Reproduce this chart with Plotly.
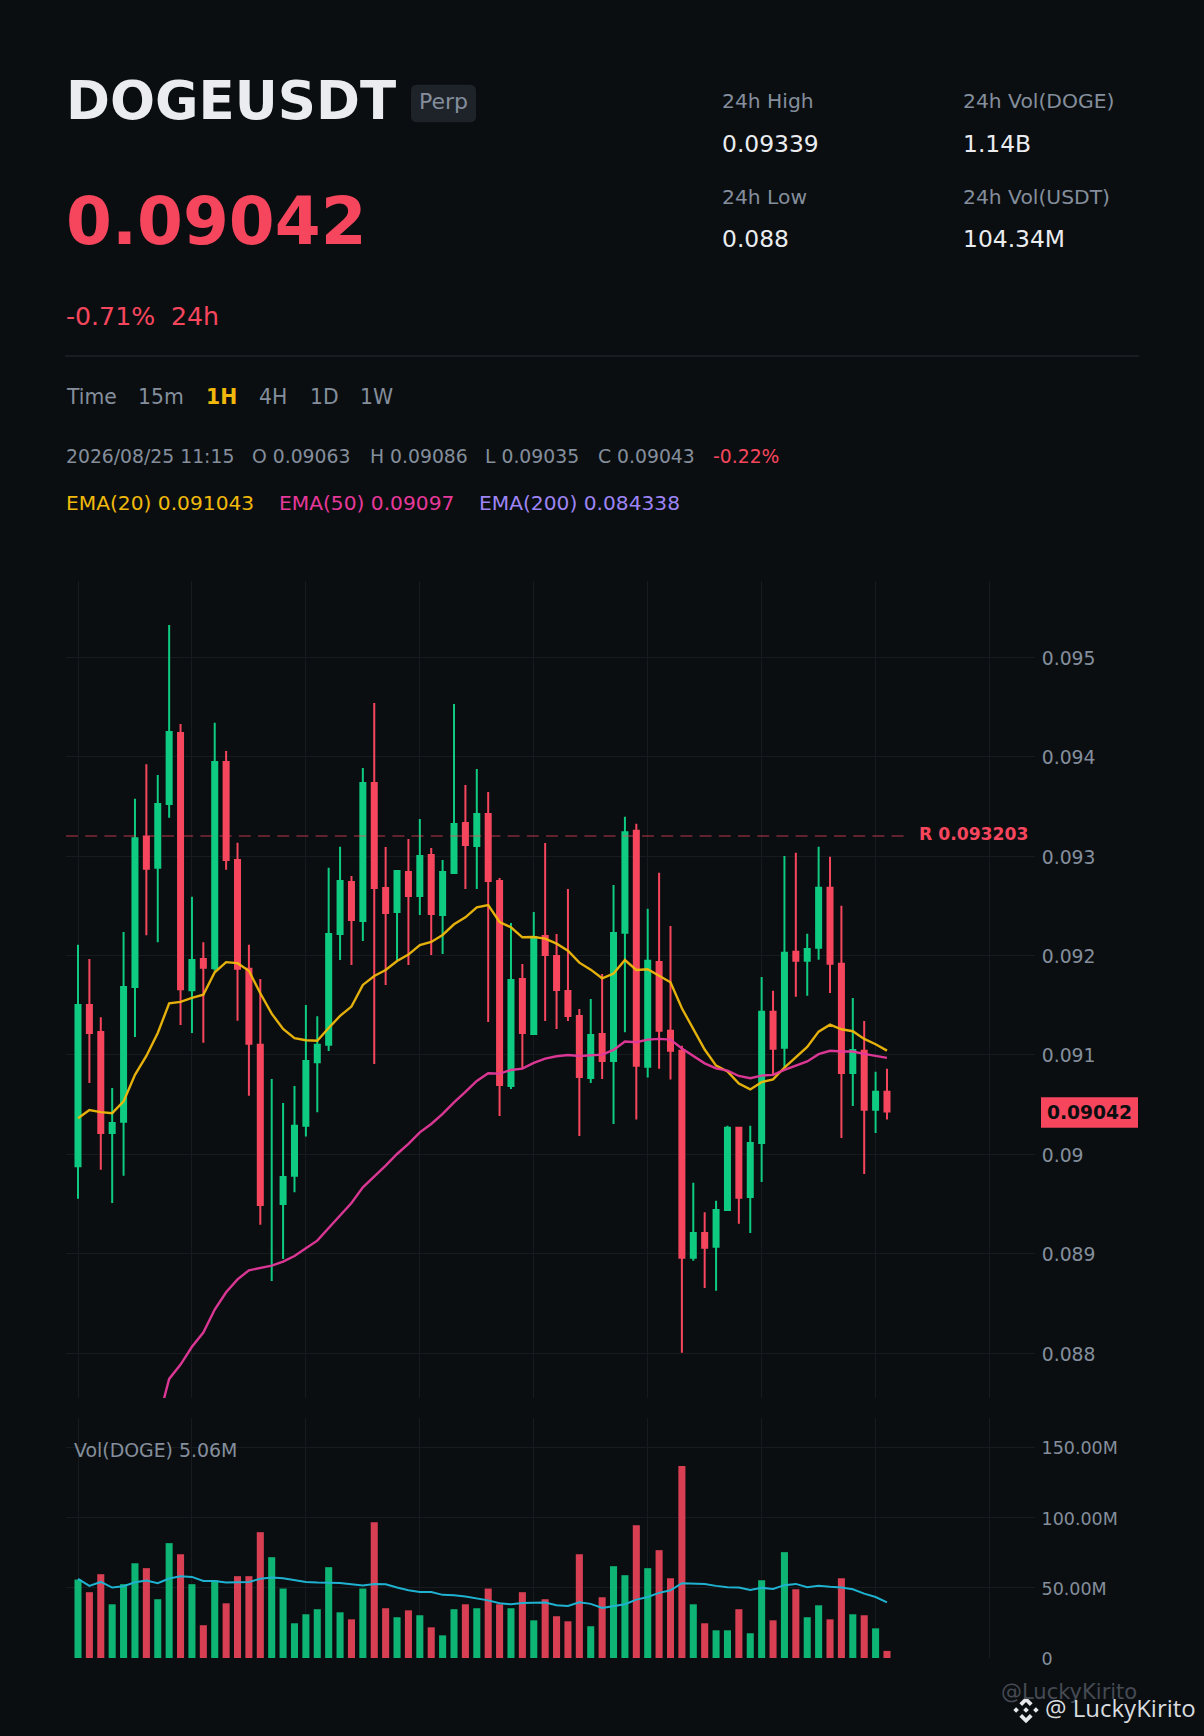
import plotly.graph_objects as go

# Candles, oldest first (candle 17 shows only a wick)
opens = [.08988, .091502, .09123, .090214, .090327, .091682, .093196, .092883, .093525, .094238,
         .091651, .091964, .091872, .093946, .09296, .091867, .091102, None, .0895, .089783,
         .090286, .090927, .091102, .092216, .09274, .092347, .093736, .092679, .092438, .09284,
         .092599, .093011, .092408, .09283, .093333, .093102, .093424, .09275, .090687, .091764,
         .091211, .092197, .091995, .091643, .091392, .090768, .091211, .090939, .092228, .093256,
         .09088, .091935, .091242, .091042, .088959, .089209, .08907, .08944, .090268, .089571,
         .090114, .091435, .091073, .092039, .091947, .092078, .092682, .091916, .090819, .091042,
         .090449, .09063]
highs = [.092108, .091964, .091379, .090666, .092236, .093576, .093925, .093817, .095326, .09433,
         .09259, .092134, .094341, .094058, .093135, .092108, .091764, .090758, .090517, .090686,
         .091502, .091389, .092883, .093093, .0928, .093887, .094541, .093092, .09285, .093172,
         .093374, .093082, .092961, .094531, .093716, .093877, .093645, .09278, .092327, .091915,
         .092438, .093132, .092217, .092669, .091462, .091563, .091814, .09271, .093395, .093325,
         .092471, .092832, .092297, .091092, .089714, .089417, .089533, .090287, .090276, .090287,
         .091785, .091646, .093002, .093033, .09222, .093094, .092994, .092501, .091573, .091342,
         .09083, .09086]
lows = [.089552, .090717, .089844, .089511, .089783, .091179, .092205, .092134, .093386, .091302,
        .09122, .091122, .091846, .092862, .091343, .090589, .08929, .088725, .088946, .089618,
        .090178, .090424, .09104, .091954, .091905, .092146, .090909, .091704, .091955, .091905,
        .092408, .092005, .092015, .09282, .092669, .092669, .091331, .090386, .090657, .090865,
        .091211, .091341, .091261, .091341, .090184, .090718, .090758, .090305, .091227, .090349,
        .090772, .090861, .090753, .088004, .088928, .088655, .088628, .08944, .089302, .089209,
        .089721, .090803, .09088, .091585, .091596, .091958, .091623, .090164, .090487, .089802,
        .090214, .09035]
closes = [.091502, .09122, .090214, .090316, .091682, .093181, .092873, .093525, .094248, .091661,
          .091954, .091877, .093946, .09296, .091867, .091112, .08949, None, .089772, .090286,
          .090938, .091102, .092216, .09275, .092357, .093736, .092679, .092428, .09285, .092599,
          .093001, .092418, .09284, .093323, .093112, .093424, .09275, .090698, .091754, .091221,
          .092186, .092005, .091653, .091392, .090778, .091201, .090939, .092227, .093241, .090892,
          .091947, .091242, .091042, .088959, .089209, .089059, .08944, .090268, .089563, .090114,
          .091435, .091061, .092028, .091947, .092066, .092682, .091916, .090819, .09105, .090449,
          .09063, .09043]

ema20 = [.090363, .090445, .090424, .090414, .090532, .090799, .090989, .09122, .091518, .091533,
         .091574, .091605, .091831, .091933, .091923, .091846, .09162, .091415, .091261, .091169,
         .091148, .091143, .091271, .091392, .091486, .091704, .091794, .091854, .091945, .092009,
         .092106, .092136, .092207, .092314, .092384, .092485, .092508, .092337, .092284, .092183,
         .092186, .09217, .092119, .092049, .091928, .091858, .091771, .091818, .091955, .091854,
         .091862, .091797, .091731, .091469, .091265, .091054, .090892, .090834, .090711, .090653,
         .090726, .090753, .090873, .090977, .09108, .091234, .091304, .091258, .091238, .091161,
         .091107, .091043]
ema50 = [None, None, None, None, None, None, None, .0873, .08774, .087884,
         .088063, .088207, .088438, .088612, .088741, .088833, .088854, .088879, .08892, .088977,
         .089054, .089131, .089259, .089387, .08951, .089668, .089775, .089886, .090003, .090104,
         .090221, .090305, .090406, .090523, .090627, .090738, .090815, .090812, .090848, .090862,
         .090919, .090962, .090986, .090999, .090989, .090996, .091003, .09105, .091134, .091127,
         .091154, .091161, .091154, .091065, .090988, .090915, .090865, .090842, .090788, .090765,
         .090792, .090799, .090849, .090888, .090934, .091007, .091042, .091034, .091034, .091011,
         .090992, .09097]

# Volume in millions of DOGE
volumes = [55.8, 46.8, 59.6, 38.2, 52.5, 67.4, 63.9, 41.8, 81.7, 73.8,
           52.5, 23.3, 55.3, 38.9, 58.2, 58.2, 89.5, 71.7, 49.4, 24.7,
           31.1, 34.7, 64.6, 32.5, 27.5, 49.4, 96.6, 35.4, 29.0, 33.9,
           30.4, 21.8, 16.1, 34.7, 38.2, 35.4, 49.4, 38.2, 35.4, 46.8,
           26.8, 41.8, 29.7, 26.1, 73.8, 22.6, 43.2, 65.3, 58.9, 94.5,
           63.9, 76.7, 56.7, 136.5, 38.2, 24.7, 19.7, 19.7, 34.7, 17.6,
           55.3, 26.8, 75.3, 48.9, 29.0, 37.5, 27.5, 56.7, 31.1, 30.4,
           21.1, 5.06]
vol_ma = [56.3, 51.3, 54.1, 50.1, 51.0, 53.9, 55.1, 53.2, 56.5, 58.2,
          57.7, 54.8, 54.8, 53.7, 53.9, 54.1, 56.3, 57.2, 56.7, 55.3,
          54.1, 53.7, 53.7, 53.4, 52.5, 51.5, 52.7, 52.5, 50.1, 48.2,
          47.0, 47.0, 44.9, 44.6, 43.7, 42.5, 41.0, 38.9, 38.2, 39.2,
          39.2, 39.4, 37.5, 37.0, 39.6, 38.5, 35.6, 36.8, 38.2, 41.5,
          43.4, 46.3, 48.2, 53.2, 53.2, 52.7, 51.3, 50.3, 50.1, 48.4,
          49.9, 49.1, 51.8, 52.7, 50.3, 51.3, 50.6, 50.1, 48.9, 45.8,
          43.4, 39.6]

candle_x = list(range(72))
grid_x = [0, 10, 20, 30, 40, 50, 60, 70, 80]
price_ticks = [.088, .089, .09, .091, .092, .093, .094, .095]
price_tick_text = ["0.088", "0.089", "0.09", "0.091", "0.092", "0.093", "0.094", "0.095"]
vol_ticks = [0, 50, 100, 150]
vol_tick_text = ["0", "50.00M", "100.00M", "150.00M"]

resistance = 0.093203
last_price = 0.09042

WIDTH = 1204
HEIGHT = 1736
BG = "#0B0E11"
GRID = "#171B20"
GREEN = "#0ECB81"
RED = "#F6465D"
GREY = "#848E9C"
YELLOW = "#F0B90B"
PINK = "#E6399B"
PURPLE = "#9D85F5"
BLUE = "#1FB2D0"
FONT = "DejaVu Sans"


def px(x):
    return x / WIDTH


def py(y):
    return 1 - y / HEIGHT


annotations = []


# text placed by its left edge and baseline, in page pixels
def label(x, base, text, size, color, bold=False, family=FONT, anchor="left"):
    annotations.append(dict(
        xref="paper", yref="paper", x=px(x), y=py(base + 0.236 * size),
        xanchor=anchor, yanchor="bottom", showarrow=False, borderpad=0,
        text="<b>%s</b>" % text if bold else text,
        font=dict(family=family, size=size, color=color),
    ))


label(65, 119, "DOGEUSDT", 53, "#EAECEF", bold=True)
label(418, 110.3, "Perp", 22, GREY)
label(64.5, 245, "0.09042", 66, RED, bold=True)
label(65, 326.3, "-0.71%", 25.2, RED)
label(170, 326.3, "24h", 25.2, RED)

label(720.5, 109, "24h High", 20.3, GREY)
label(720.5, 153.7, "0.09339", 23.4, "#EAECEF")
label(720.5, 205, "24h Low", 20.3, GREY)
label(720.5, 248, "0.088", 23.4, "#EAECEF")
label(961.5, 109, "24h Vol(DOGE)", 20.3, GREY)
label(961.5, 153.7, "1.14B", 23.4, "#EAECEF")
label(961.5, 205, "24h Vol(USDT)", 20.3, GREY)
label(961.5, 248, "104.34M", 23.4, "#EAECEF")

label(65, 405.3, "Time", 20.35, GREY)
label(137, 405.3, "15m", 20.35, GREY)
label(205, 405.3, "1H", 20.35, YELLOW, bold=True)
label(258, 405.3, "4H", 20.35, GREY)
label(309, 405.3, "1D", 20.35, GREY)
label(358.5, 405.3, "1W", 20.35, GREY)

label(65, 463.7, "2026/08/25 11:15", 18.8, GREY)
label(251, 463.7, "O 0.09063", 18.8, GREY)
label(368.5, 463.7, "H 0.09086", 18.8, GREY)
label(484, 463.7, "L 0.09035", 18.8, GREY)
label(596.5, 463.7, "C 0.09043", 18.8, GREY)
label(712, 463.7, "-0.22%", 18.8, RED)

label(65, 511.5, "EMA(20) 0.091043", 20.2, YELLOW)
label(278, 511.5, "EMA(50) 0.09097", 20.2, PINK)
label(478, 511.5, "EMA(200) 0.084338", 20.2, PURPLE)

label(73, 1457.7, "Vol(DOGE) 5.06M", 18.9, GREY)
label(917.5, 841.2, "R 0.093203", 17.2, RED, bold=True)
label(1000, 1700, "@LuckyKirito", 21, "#454A53")
label(1044, 1719.7, "@ LuckyKirito", 24, "#D8DBDF", family="Open Sans")

annotations.append(dict(
    xref="paper", yref="y", x=px(1089.5), y=last_price, xanchor="center", yanchor="middle",
    showarrow=False, borderpad=0, text="<b>0.09042</b>",
    font=dict(family=FONT, size=18.7, color=BG),
))


# Binance logo, polygons around its centre in page pixels
def polygon(cx, cy, points):
    parts = ["%.5f %.5f" % (px(cx + a), py(cy + b)) for a, b in points]
    return "M " + " L ".join(parts) + " Z"


def rounded_rect(x0, y0, x1, y1, r):
    return ("M %.5f %.5f L %.5f %.5f Q %.5f %.5f %.5f %.5f L %.5f %.5f Q %.5f %.5f %.5f %.5f "
            "L %.5f %.5f Q %.5f %.5f %.5f %.5f L %.5f %.5f Q %.5f %.5f %.5f %.5f Z" % (
                px(x0 + r), py(y0), px(x1 - r), py(y0), px(x1), py(y0), px(x1), py(y0 + r),
                px(x1), py(y1 - r), px(x1), py(y1), px(x1 - r), py(y1),
                px(x0 + r), py(y1), px(x0), py(y1), px(x0), py(y1 - r),
                px(x0), py(y0 + r), px(x0), py(y0), px(x0 + r), py(y0)))


logo_x, logo_y = 1026, 1710
logo_parts = [
    [(0, -13.3), (6.6, -6.7), (3.9, -4), (0, -7.9), (-3.9, -4), (-6.6, -6.7)],
    [(0, 13.3), (6.6, 6.7), (3.9, 4), (0, 7.9), (-3.9, 4), (-6.6, 6.7)],
    [(0, -2.8), (2.8, 0), (0, 2.8), (-2.8, 0)],
    [(-9.9, -2.8), (-7.1, 0), (-9.9, 2.8), (-12.7, 0)],
    [(9.9, -2.8), (12.7, 0), (9.9, 2.8), (7.1, 0)],
]

shapes = [
    # separator
    dict(type="line", xref="paper", yref="paper", x0=px(65), x1=px(1139), y0=py(356), y1=py(356),
         line=dict(color="#1E2329", width=1.5)),
    # Perp badge
    dict(type="path", xref="paper", yref="paper", path=rounded_rect(411, 84.7, 476, 122.3, 6),
         fillcolor="#1E2329", line=dict(width=0), layer="below"),
    # resistance level
    dict(type="line", xref="paper", yref="y", x0=px(66), x1=px(905), y0=resistance, y1=resistance,
         line=dict(color="rgba(246,70,93,0.5)", width=1.4, dash="12px,7.2px")),
    # last price tag
    dict(type="rect", xref="paper", yref="y", x0=px(1041), x1=px(1138), ysizemode="pixel",
         yanchor=last_price, y0=-15.3, y1=15.3, fillcolor=RED, line=dict(width=0)),
]
for part in logo_parts:
    shapes.append(dict(type="path", xref="paper", yref="paper", path=polygon(logo_x, logo_y, part),
                       fillcolor="#E6E8EB", line=dict(width=0)))

fig = go.Figure()

fig.add_trace(go.Candlestick(
    x=candle_x, open=opens, high=highs, low=lows, close=closes,
    increasing=dict(line=dict(color=GREEN, width=2), fillcolor=GREEN),
    decreasing=dict(line=dict(color=RED, width=2), fillcolor=RED),
    whiskerwidth=0, xaxis="x", yaxis="y",
))
# the wick-only candle has no body to draw
fig.add_trace(go.Scatter(x=[17, 17], y=[lows[17], highs[17]], mode="lines",
                         line=dict(color=GREEN, width=2), xaxis="x", yaxis="y"))
fig.add_trace(go.Scatter(x=candle_x, y=ema20, mode="lines", line=dict(color=YELLOW, width=2.4),
                         opacity=0.95, xaxis="x", yaxis="y"))
fig.add_trace(go.Scatter(x=candle_x, y=ema50, mode="lines", line=dict(color=PINK, width=2.4),
                         opacity=0.95, xaxis="x", yaxis="y"))

vol_colors = [GREEN if c is None or c >= o else RED for o, c in zip(opens, closes)]
fig.add_trace(go.Bar(x=candle_x, y=volumes, marker=dict(color=vol_colors, line=dict(width=0)),
                     width=0.62, opacity=0.88, xaxis="x2", yaxis="y2"))
fig.add_trace(go.Scatter(x=candle_x, y=vol_ma, mode="lines", line=dict(color=BLUE, width=2),
                         xaxis="x2", yaxis="y2"))

x_common = dict(
    domain=[px(66), px(1035)], range=[-1.053, 83.99], tickmode="array", tickvals=grid_x,
    showticklabels=False, ticks="", showgrid=True, gridcolor=GRID, gridwidth=1,
    zeroline=False, showline=False, automargin=False, rangeslider=dict(visible=False),
)
y_common = dict(
    side="right", tickmode="array", showgrid=True, gridcolor=GRID, gridwidth=1, zeroline=False,
    showline=False, automargin=False, ticks="outside", ticklen=2, tickcolor=BG, ticklabelshift=1,
)

fig.update_layout(
    width=WIDTH, height=HEIGHT, autosize=False, showlegend=False, hovermode=False,
    paper_bgcolor=BG, plot_bgcolor=BG, font=dict(family=FONT),
    margin=dict(l=0, r=0, t=0, b=0, pad=0),
    xaxis=dict(anchor="y", **x_common),
    xaxis2=dict(anchor="y2", **x_common),
    yaxis=dict(anchor="x", domain=[py(1398), py(581)], range=[.087548, .095768],
               tickvals=price_ticks, ticktext=price_tick_text,
               tickfont=dict(family=FONT, size=18.8, color=GREY), **y_common),
    yaxis2=dict(anchor="x2", domain=[py(1658), py(1418)], range=[0, 170.7],
                tickvals=vol_ticks, ticktext=vol_tick_text,
                tickfont=dict(family=FONT, size=17.5, color=GREY), **y_common),
    boxgap=0.56, boxgroupgap=0,
    annotations=annotations, shapes=shapes,
)

fig.write_html(
    "out.html",
    config={"displayModeBar": False},
    post_script="document.body.style.margin='0';document.body.style.background='%s';"
                "document.body.style.overflow='hidden';" % BG,
)
